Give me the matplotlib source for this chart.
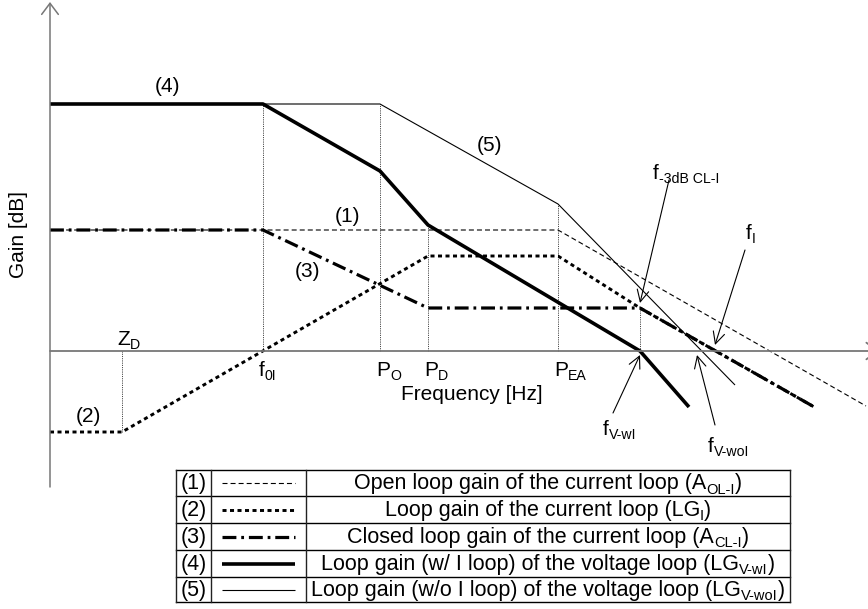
import matplotlib
matplotlib.use('Agg')
import matplotlib.pyplot as plt
from matplotlib import font_manager
from matplotlib.font_manager import FontProperties

plt.rcParams['font.family'] = ['Liberation Sans', 'DejaVu Sans']
plt.rcParams['lines.scale_dashes'] = False

# asymptotic Bode curves: frequency position (arbitrary log units) and gain
f_aol = [0, 508, 816]
g_aol = [121, 121, -55]
f_lgi = [0, 72, 378, 508, 590, 766]
g_lgi = [-81, -81, 95, 95, 43, -57]
f_acl = [0, 213, 378, 590, 766]
g_acl = [121, 121, 43, 43, -57]
f_lgvwi = [0, 213, 330, 378, 590, 639]
g_lgvwi = [247, 247, 180, 126, 0, -56]
f_lgvwoi = [0, 330, 508, 685]
g_lgvwoi = [247, 247, 147, -34]

# dotted guide lines at the break points
guide_f = [72, 213, 330, 378, 508, 590]
guide_g = [-81, 247, 247, 126, 147, 43]

# break point names on the frequency axis
tick_f = [213, 330, 378, 508]
tick_main = ["f", "P", "P", "P"]
tick_sub = ["0I", "O", "D", "EA"]

curve_tags = ["(1)", "(2)", "(3)", "(4)", "(5)"]
legend_main = ["Open loop gain of the current loop (A",
               "Loop gain of the current loop (LG",
               "Closed loop gain of the current loop (A",
               "Loop gain (w/ I loop) of the voltage loop (LG",
               "Loop gain (w/o I loop) of the voltage loop (LG"]
legend_sub = ["OL-I", "I", "CL-I", "V-wI", "V-woI"]

styles = [dict(color='k', lw=0.8, dashes=(3.6, 2.2)),
          dict(color='k', lw=2.1, dashes=(2.9, 2.5)),
          dict(color='k', lw=2.3, dashes=(10, 3.5, 2, 3.5)),
          dict(color='k', lw=2.6),
          dict(color='k', lw=0.8)]

PX = 100 / 72

fig = plt.figure(figsize=(8.68, 6.09), dpi=100)
ax = fig.add_axes([0, 0, 1, 1])
ax.set_xlim(-50, 818)
ax.set_ylim(-258, 351)
ax.axis('off')
renderer = fig.canvas.get_renderer()


def rich_text(x, y, parts, size, ha='left', **kw):
    items = []
    cx = x
    for s, sub in parts:
        fs = size * 0.68 if sub else size
        yy = y - size * PX * 0.2 if sub else y
        t = ax.text(cx, yy, s, fontsize=fs, ha='left', va='baseline', **kw)
        cx += t.get_window_extent(renderer).width
        items.append(t)
    if ha == 'center':
        shift = (cx - x) / 2
        for t in items:
            px, py = t.get_position()
            t.set_position((px - shift, py))
    return items


# axes
ax.annotate('', xy=(0, 349), xytext=(0, -136), annotation_clip=False,
            arrowprops=dict(arrowstyle='->,head_length=0.8,head_width=0.6',
                            lw=1.1, color='#777777', shrinkA=0, shrinkB=0,
                            mutation_scale=10))
ax.annotate('', xy=(829, 0), xytext=(0, 0), annotation_clip=False,
            arrowprops=dict(arrowstyle='->,head_length=0.8,head_width=0.6',
                            lw=1.3, color='#777777', shrinkA=0, shrinkB=0,
                            mutation_scale=10))

for f, g in zip(guide_f, guide_g):
    ax.plot([f, f], [0, g], color='#444444', lw=0.7, ls=(0, (0.8, 0.8)))

curves = [(f_aol, g_aol), (f_lgi, g_lgi), (f_acl, g_acl),
          (f_lgvwi, g_lgvwi), (f_lgvwoi, g_lgvwoi)]
for (f, g), st in zip(curves, styles):
    ax.plot(f, g, solid_capstyle='butt', **st)

fs = 15
# curve tags
tag_pos = [(297, 129), (38, -71), (258, 74), (117, 259), (440, 200)]
for tag, (x, y) in zip(curve_tags, tag_pos):
    ax.text(x, y, tag, fontsize=fs, ha='center', va='baseline')

for f, m, s in zip(tick_f, tick_main, tick_sub):
    rich_text(f - 4, -25, [(m, False), (s, True)], fs)
rich_text(67, 6, [("Z", False), ("D", True)], fs)

ax.text(422, -49, "Frequency [Hz]", fontsize=fs, ha='center', va='baseline')
ax.text(-32, 116, "Gain [dB]", fontsize=fs, ha='center', va='center',
        rotation=90)

# frequency markers with arrows
rich_text(603, 172, [("f", False), ("-3dB CL-I", True)], fs)
rich_text(696, 112, [("f", False), ("I", True)], fs)
rich_text(553, -84, [("f", False), ("V-wI", True)], fs)
rich_text(658, -101, [("f", False), ("V-woI", True)], fs)

arrows = [((619, 171), (590, 48)), ((695, 101), (665, 6)),
          ((563, -62), (590, -4)), ((665, -74), (647, -4))]
for tail, head in arrows:
    ax.annotate('', xy=head, xytext=tail,
                arrowprops=dict(arrowstyle='->,head_length=0.7,head_width=0.35',
                                lw=0.8, color='k', shrinkA=0, shrinkB=0,
                                mutation_scale=12))

# legend table
try:
    font_manager.findfont(FontProperties(family='Liberation Sans Narrow'),
                          fallback_to_default=False)
    leg_family, leg_fs = 'Liberation Sans Narrow', 18.5
except ValueError:
    leg_family, leg_fs = 'Liberation Sans', 15.5

tbl_x = [126, 161, 256, 740]
tbl_y = [-119, -145, -172, -199, -226, -251]
for y in tbl_y:
    ax.plot([tbl_x[0], tbl_x[-1]], [y, y], color='k', lw=1.0)
for x in tbl_x:
    ax.plot([x, x], [tbl_y[0], tbl_y[-1]], color='#222222', lw=1.0)

for i in range(5):
    yc = (tbl_y[i] + tbl_y[i + 1]) / 2
    base = yc - 0.3 * leg_fs * PX
    ax.text((tbl_x[0] + tbl_x[1]) / 2, base, curve_tags[i], fontsize=leg_fs,
            ha='center', va='baseline', family=leg_family)
    ax.plot([172, 245], [yc, yc], solid_capstyle='butt', **styles[i])
    rich_text((tbl_x[2] + tbl_x[3]) / 2, base,
              [(legend_main[i], False), (legend_sub[i], True), (")", False)],
              leg_fs, ha='center', family=leg_family)

fig.savefig('out.png', dpi=100)
